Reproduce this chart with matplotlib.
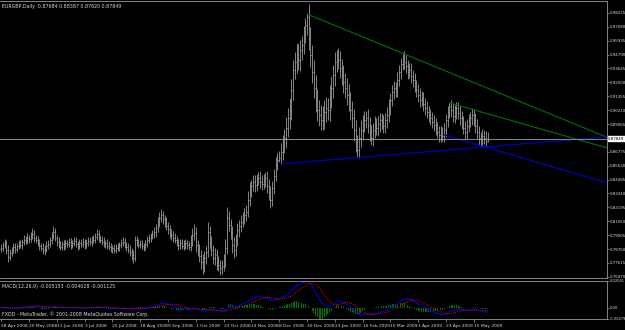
import numpy as np
import pandas as pd
import matplotlib
matplotlib.use("Agg")
import matplotlib.pyplot as plt

plt.rcParams["font.family"] = ["Liberation Sans Narrow", "DejaVu Sans"]

# daily closes EURGBP, 28 Apr 2008 .. 27 May 2009
close = [
    0.7886, 0.7911, 0.7927, 0.7870, 0.7812, 0.7845, 0.7870, 0.7894, 0.7878, 0.7903,
    0.7919, 0.7911, 0.7936, 0.7952, 0.7944, 0.7969, 0.7960, 0.7985, 0.8001, 0.7969,
    0.7952, 0.7927, 0.7903, 0.7886, 0.7870, 0.7878, 0.7903, 0.7919, 0.7952, 0.7985,
    0.8018, 0.7969, 0.7936, 0.7911, 0.7894, 0.7919, 0.7903, 0.7927, 0.7919, 0.7936,
    0.7911, 0.7927, 0.7944, 0.7919, 0.7903, 0.7927, 0.7919, 0.7936, 0.7911, 0.7927,
    0.7944, 0.7936, 0.7960, 0.7952, 0.7977, 0.8001, 0.7969, 0.7952, 0.7936, 0.7919,
    0.7927, 0.7903, 0.7894, 0.7878, 0.7886, 0.7870, 0.7886, 0.7894, 0.7911, 0.7927,
    0.7936, 0.7911, 0.7894, 0.7870, 0.7853, 0.7828, 0.7804, 0.7952, 0.7936, 0.7911,
    0.7919, 0.7903, 0.7894, 0.7919, 0.7952, 0.7969, 0.7985, 0.8001, 0.8018, 0.8051,
    0.8100, 0.8133, 0.8158, 0.8125, 0.8100, 0.8067, 0.8043, 0.8010, 0.7993, 0.7969,
    0.7952, 0.7936, 0.7911, 0.7927, 0.7903, 0.7919, 0.7927, 0.7911, 0.7894, 0.7952,
    0.7993, 0.8010, 0.7911, 0.7870, 0.7820, 0.7771, 0.7738, 0.7804, 0.7853, 0.8018,
    0.7936, 0.7870, 0.7804, 0.7828, 0.7771, 0.7746, 0.7721, 0.7738, 0.7771, 0.7886,
    0.8133, 0.8076, 0.8018, 0.7911, 0.7870, 0.7952, 0.8034, 0.8067, 0.8100, 0.8133,
    0.8158, 0.8183, 0.8282, 0.8364, 0.8397, 0.8430, 0.8405, 0.8446, 0.8463, 0.8430,
    0.8413, 0.8446, 0.8463, 0.8397, 0.8347, 0.8282, 0.8380, 0.8479, 0.8570, 0.8611,
    0.8628, 0.8677, 0.8735, 0.8792, 0.8875, 0.8957, 0.9023, 0.9188, 0.9353, 0.9419,
    0.9476, 0.9435, 0.9518, 0.9559, 0.9641, 0.9724, 0.9789, 0.9616, 0.9476, 0.9336,
    0.9204, 0.9106, 0.9023, 0.8982, 0.8941, 0.8957, 0.9007, 0.9040, 0.9023, 0.9122,
    0.9204, 0.9312, 0.9419, 0.9476, 0.9435, 0.9369, 0.9312, 0.9254, 0.9204, 0.9147,
    0.9089, 0.9023, 0.8957, 0.8858, 0.8759, 0.8694, 0.8792, 0.8858, 0.8908, 0.8941,
    0.8957, 0.8900, 0.8842, 0.8792, 0.8858, 0.8900, 0.8875, 0.8908, 0.8941, 0.8924,
    0.8891, 0.8941, 0.8982, 0.9040, 0.9106, 0.9171, 0.9204, 0.9188, 0.9270, 0.9336,
    0.9402, 0.9452, 0.9419, 0.9386, 0.9336, 0.9353, 0.9303, 0.9270, 0.9221, 0.9188,
    0.9147, 0.9106, 0.9122, 0.9073, 0.9040, 0.9007, 0.8982, 0.8957, 0.8924, 0.8900,
    0.8875, 0.8842, 0.8817, 0.8834, 0.8809, 0.8858, 0.8941, 0.9007, 0.9056, 0.9023,
    0.8974, 0.9007, 0.9040, 0.8998, 0.8957, 0.8924, 0.8875, 0.8842, 0.8891, 0.8941,
    0.8957, 0.8982, 0.8941, 0.8891, 0.8842, 0.8792, 0.8776, 0.8809, 0.8792, 0.87684,
    0.87849,
]
first_open = 0.7880

# wick lengths above / below the body, in pips
wick_up = [
    30, 25, 35, 20, 40, 30, 25, 35, 30, 25, 35, 30, 25, 40, 30, 35, 25, 30, 45, 30,
    25, 35, 30, 25, 40, 30, 35, 30, 25, 30, 45, 30, 25, 35, 30, 25, 30, 35, 25, 30,
    30, 25, 35, 30, 25, 30, 35, 30, 25, 30, 35, 30, 25, 30, 35, 40, 30, 25, 30, 35,
    25, 30, 35, 30, 25, 30, 35, 30, 25, 30, 35, 30, 25, 30, 35, 30, 40, 35, 30, 25,
    30, 35, 25, 30, 35, 30, 25, 35, 40, 35, 40, 45, 50, 35, 30, 40, 35, 30, 35, 30,
    35, 30, 25, 35, 30, 35, 30, 25, 35, 40, 55, 70, 45, 40, 50, 45, 60, 55, 50, 80,
    45, 50, 40, 55, 45, 50, 40, 45, 60, 70, 90, 55, 50, 45, 60, 50, 55, 45, 60, 50,
    55, 60, 70, 65, 50, 55, 60, 50, 45, 55, 60, 50, 45, 55, 60, 50, 55, 60, 65, 55,
    60, 70, 80, 75, 90, 85, 100, 90, 80, 85, 95, 90, 80, 75, 70, 60, 25, 110, 90, 80,
    100, 110, 90, 80, 85, 95, 100, 90, 85, 110, 95, 85, 80, 42, 60, 70, 75, 80, 70, 85,
    90, 80, 75, 70, 85, 60, 90, 80, 70, 75, 60, 70, 65, 55, 60, 70, 55, 65, 60, 55,
    60, 55, 65, 70, 60, 55, 60, 50, 65, 55, 45, 38, 60, 55, 50, 60, 55, 50, 60, 45,
    50, 55, 60, 50, 45, 55, 50, 45, 50, 55, 60, 50, 45, 55, 50, 60, 50, 45, 25, 50,
    55, 60, 50, 45, 55, 60, 50, 55, 60, 50, 45, 55, 50, 60, 55, 45, 50, 55, 50, 60,
    54,
]
wick_dn = [
    25, 30, 25, 35, 40, 30, 25, 30, 35, 30, 25, 30, 35, 25, 30, 30, 35, 25, 30, 35,
    30, 25, 35, 30, 35, 40, 30, 25, 30, 35, 30, 25, 35, 30, 25, 30, 35, 30, 25, 30,
    35, 30, 25, 30, 35, 30, 25, 30, 35, 30, 25, 30, 35, 30, 25, 30, 35, 30, 25, 30,
    35, 30, 25, 30, 35, 30, 25, 30, 35, 30, 25, 30, 35, 30, 35, 40, 45, 30, 35, 30,
    25, 30, 35, 30, 25, 30, 35, 30, 35, 40, 35, 40, 35, 45, 40, 35, 40, 45, 40, 35,
    30, 35, 40, 35, 30, 35, 40, 35, 30, 35, 50, 45, 60, 55, 50, 60, 65, 55, 50, 45,
    60, 55, 50, 60, 65, 55, 60, 50, 45, 40, 50, 55, 60, 70, 65, 50, 55, 60, 50, 45,
    50, 55, 45, 50, 55, 45, 60, 50, 45, 55, 50, 45, 55, 60, 65, 70, 55, 50, 45, 40,
    15, 50, 70, 65, 80, 75, 90, 80, 85, 75, 90, 85, 95, 80, 75, 70, 80, 95, 100, 90,
    85, 100, 95, 90, 80, 85, 90, 80, 85, 90, 80, 85, 90, 80, 75, 85, 80, 90, 85, 80,
    75, 80, 85, 90, 85, 58, 70, 75, 80, 70, 65, 70, 75, 60, 65, 70, 60, 65, 70, 60,
    55, 60, 65, 55, 60, 50, 55, 60, 55, 50, 55, 50, 60, 55, 60, 50, 55, 60, 50, 55,
    60, 55, 50, 55, 60, 50, 55, 60, 50, 55, 60, 50, 55, 60, 45, 50, 55, 60, 50, 55,
    50, 55, 60, 50, 55, 60, 50, 55, 60, 50, 55, 60, 50, 55, 60, 60, 50, 55, 50, 50,
    6,
]

# axis texts
title = "EURGBP,Daily  0.87684 0.88387 0.87620 0.87849"
macd_title = "MACD(12,26,9) -0.005153 -0.004028 -0.001125"
footer = "FXDD - MetaTrader, \u00a9 2001-2008 MetaQuotes Software Corp."
price_ticks = [0.76470, 0.77615, 0.78760, 0.79905, 0.81050, 0.82195, 0.83340,
               0.84485, 0.85630, 0.86775, 0.89065, 0.90210, 0.91355, 0.92500,
               0.93645, 0.94790, 0.95935, 0.97080, 0.98225]
macd_tick_labels = ["0.02041", "0.00", "-0.00479"]
date_labels = ["28 Apr 2008", "20 May 2008", "11 Jun 2008", "3 Jul 2008",
               "25 Jul 2008", "18 Aug 2008", "9 Sep 2008", "1 Oct 2008",
               "23 Oct 2008", "14 Nov 2008", "8 Dec 2008", "30 Dec 2008",
               "23 Jan 2009", "16 Feb 2009", "10 Mar 2009", "1 Apr 2009",
               "23 Apr 2009", "15 May 2009"]
date_every = 16

# trend lines: (bar, price) pairs
green_1 = [(176, 0.9814), (348.7, 0.8797)]
green_2 = [(258, 0.9081), (348.7, 0.8710)]
blue_1 = [(161, 0.8578), (348.7, 0.8801)]
blue_2 = [(255, 0.8817), (348.7, 0.8422)]

close = np.array(close)
n = len(close)
idx = np.arange(n)
opn = np.r_[first_open, close[:-1]]
high = np.maximum(opn, close) + np.array(wick_up) * 1e-4
low = np.minimum(opn, close) - np.array(wick_dn) * 1e-4

s = pd.Series(close)
macd = s.ewm(span=12, adjust=False).mean() - s.ewm(span=26, adjust=False).mean()
signal = macd.rolling(9, min_periods=1).mean()
hist = macd - signal
m_hi = max(macd.max(), signal.max(), hist.max())
m_lo = min(macd.min(), signal.min(), hist.min())

W, H = 625, 330
fig = plt.figure(figsize=(W / 100, H / 100), dpi=100, facecolor="black")
ax = fig.add_axes([0, 52 / H, 607 / W, 277 / H], facecolor="black")
ax2 = fig.add_axes([0, 11 / H, 607 / W, 38 / H], facecolor="black")

xlim = (-0.7, 348.7)
fg = "#b8b8b8"
txt = "#d8d8d8"
frame = "#9a9a9a"

ax.vlines(idx, low, high, color=fg, lw=0.5)
ax.hlines(opn, idx - 0.5, idx, color=fg, lw=0.4)
ax.hlines(close, idx, idx + 0.5, color=fg, lw=0.4)

for pts, col in [(green_1, "#007000"), (green_2, "#007000"),
                 (blue_1, "#0000d0"), (blue_2, "#0000d0")]:
    ax.plot([p[0] for p in pts], [p[1] for p in pts], color=col, lw=0.8)

ax.axhline(close[-1], color="#a0a0a0", lw=0.6)

ax.set_xlim(*xlim)
ax.set_ylim(0.7637, 0.9921)
ax.yaxis.tick_right()
ax.set_yticks(price_ticks)
ax.set_yticklabels(["%.5f" % v for v in price_ticks])
ax.set_xticks([])
ax.tick_params(axis="y", colors=frame, labelcolor=txt, labelsize=2.9,
               length=1.5, width=0.5, pad=0.8)
for sp in ax.spines.values():
    sp.set_color(frame)
    sp.set_linewidth(0.6)
ax.spines["left"].set_visible(False)

ax.text(0.004, 0.988, title, transform=ax.transAxes, color=txt, fontsize=3.4,
        va="top", ha="left")
ax.text(1.002, close[-1], "%.5f" % close[-1], transform=ax.get_yaxis_transform(),
        color="black", fontsize=2.9, va="center", ha="left",
        bbox=dict(boxstyle="square,pad=0.15", fc="white", ec="white"), clip_on=False)

# MACD panel
ax2.bar(idx, hist, width=0.5, color="#007000")
ax2.plot(idx, macd, color="#0000ff", lw=0.7)
ax2.plot(idx, signal, color="#ff0000", lw=0.7, ls=(0, (1, 1.2)))
ax2.set_xlim(*xlim)
ax2.set_ylim(m_lo, m_hi)
ax2.yaxis.tick_right()
ax2.set_yticks([m_hi, 0.0, m_lo])
ax2.set_yticklabels(macd_tick_labels)
ax2.set_xticks(idx[::date_every][:len(date_labels)])
ax2.set_xticklabels(date_labels, ha="left")
ax2.tick_params(axis="x", colors=frame, labelcolor=txt, labelsize=3.2, length=2,
                width=0.5, pad=1.5)
ax2.tick_params(axis="y", colors=frame, labelcolor=txt, labelsize=2.6,
                length=1.2, width=0.5, pad=0.6)
for sp in ax2.spines.values():
    sp.set_color(frame)
    sp.set_linewidth(0.6)
ax2.spines["left"].set_visible(False)
ax2.text(0.004, 0.93, macd_title, transform=ax2.transAxes, color=txt, fontsize=3.4,
         va="top", ha="left")
ax2.text(0.004, 0.04, footer, transform=ax2.transAxes, color=txt, fontsize=3.4,
         va="bottom", ha="left")

fig.savefig("out.png", dpi=100, facecolor="black")
